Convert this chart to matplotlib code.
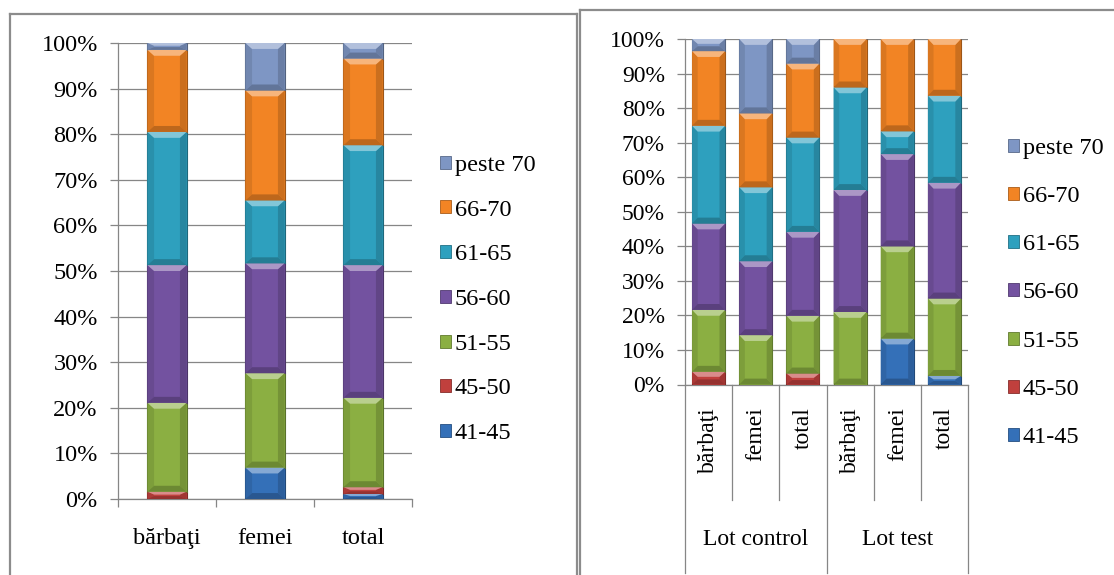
import matplotlib
matplotlib.use('Agg')
import matplotlib.pyplot as plt
from matplotlib.patches import Polygon, Patch
from matplotlib.lines import Line2D
from matplotlib.colors import to_rgb
from matplotlib.font_manager import FontProperties
import numpy as np

plt.rcParams['font.family'] = ['Liberation Serif', 'DejaVu Serif']

# ---------------- data ----------------
age_groups = ['41-45', '45-50', '51-55', '56-60', '61-65', '66-70', 'peste 70']
sex_labels = ['bărbaţi', 'femei', 'total']
lot_labels = ['Lot control', 'Lot test']

# all patients, percent per age group (bărbaţi, femei, total)
all_41_45 = [0.0, 6.9, 1.1]
all_45_50 = [1.6, 0.0, 1.5]
all_51_55 = [19.5, 20.7, 19.6]
all_56_60 = [30.2, 24.1, 29.1]
all_61_65 = [29.2, 13.8, 26.3]
all_66_70 = [18.0, 24.1, 19.0]
all_peste_70 = [1.5, 10.4, 3.4]

# per lot, percent per age group
# (control: bărbaţi, femei, total; test: bărbaţi, femei, total)
lot_41_45 = [0.0, 0.0, 0.0, 0.0, 13.3, 2.5]
lot_45_50 = [3.7, 0.0, 3.2, 0.0, 0.0, 0.0]
lot_51_55 = [17.9, 14.3, 16.7, 21.0, 26.7, 22.4]
lot_56_60 = [25.0, 21.4, 24.3, 35.3, 26.7, 33.5]
lot_61_65 = [28.3, 21.4, 27.3, 29.7, 6.6, 25.2]
lot_66_70 = [21.6, 21.4, 21.4, 14.0, 26.7, 16.4]
lot_peste_70 = [3.5, 21.5, 7.1, 0.0, 0.0, 0.0]

base_colors = ['#3470B8', '#C0403D', '#8BAF42', '#7352A0',
               '#2EA0BE', '#F28424', '#7E96C4']

GRID = '#868686'
W, H = 1114, 575
FS = 17.5


def shade(c, f):
    r, g, b = to_rgb(c)
    if f >= 0:
        return tuple(v + (1 - v) * f for v in (r, g, b))
    return tuple(v * (1 + f) for v in (r, g, b))


def draw_stack(ax, series, width, band):
    x = np.arange(len(series[0]))
    bottom = np.zeros(len(x))
    for vals, col in zip(series, base_colors):
        vals = np.asarray(vals, float)
        ax.bar(x, vals, width, bottom=bottom, color=col,
               edgecolor=shade(col, -0.35), linewidth=0.8, zorder=3)
        for xi, b0, h in zip(x, bottom, vals):
            if h <= 0:
                continue
            top = b0 + h
            bh = min(band, 0.4 * h)
            inset = width * 0.17
            x0, x1 = xi - width / 2, xi + width / 2
            # bevel: light top, darker sides and bottom
            ax.add_patch(Polygon([(x0, b0), (x0, top), (x0 + inset, top - bh),
                                  (x0 + inset, b0 + bh)], closed=True,
                                 facecolor=shade(col, -0.1), edgecolor='none', zorder=4))
            ax.add_patch(Polygon([(x1, b0), (x1, top), (x1 - inset, top - bh),
                                  (x1 - inset, b0 + bh)], closed=True,
                                 facecolor=shade(col, -0.16), edgecolor='none', zorder=4))
            ax.add_patch(Polygon([(x0, b0), (x1, b0), (x1 - inset, b0 + bh),
                                  (x0 + inset, b0 + bh)], closed=True,
                                 facecolor=shade(col, -0.22), edgecolor='none', zorder=4))
            ax.add_patch(Polygon([(x0, top), (x1, top), (x1 - inset, top - bh),
                                  (x0 + inset, top - bh)], closed=True,
                                 facecolor=shade(col, 0.4), edgecolor='none', zorder=4))
        bottom += vals


def style_y(ax, size):
    ax.set_ylim(0, 100)
    ax.set_yticks(np.arange(0, 101, 10))
    ax.set_yticklabels([f'{v}%' for v in range(0, 101, 10)])
    ax.yaxis.grid(True, color=GRID, linewidth=0.9, zorder=0)
    ax.set_axisbelow(True)
    ax.tick_params(axis='y', length=5.5, width=0.9, color=GRID,
                   labelsize=size, pad=9)
    for s in ('top', 'right'):
        ax.spines[s].set_visible(False)
    for s in ('left', 'bottom'):
        ax.spines[s].set_color(GRID)
        ax.spines[s].set_linewidth(0.9)


fig = plt.figure(figsize=(W / 100, H / 100), dpi=100)

# ---------------- left chart ----------------
ax1 = fig.add_axes([118 / W, 1 - 499 / H, 294 / W, 456 / H])
left_series = [all_41_45, all_45_50, all_51_55, all_56_60,
               all_61_65, all_66_70, all_peste_70]
draw_stack(ax1, left_series, 0.4, 1.3)
ax1.set_xlim(-0.5, len(sex_labels) - 0.5)
style_y(ax1, FS)
ax1.set_xticks(np.arange(len(sex_labels)))
ax1.set_xticklabels(sex_labels)
ax1.set_xticks(np.arange(len(sex_labels) + 1) - 0.5, minor=True)
ax1.tick_params(axis='x', which='major', length=0, labelsize=FS, pad=21)
ax1.tick_params(axis='x', which='minor', length=5.5, width=0.9, color=GRID)

# ---------------- right chart ----------------
ax2 = fig.add_axes([685 / W, 1 - 384.5 / H, 283 / W, 345.5 / H])
right_series = [lot_41_45, lot_45_50, lot_51_55, lot_56_60,
                lot_61_65, lot_66_70, lot_peste_70]
draw_stack(ax2, right_series, 0.7, 1.7)
n_right = len(lot_41_45)
ax2.set_xlim(-0.5, n_right - 0.5)
style_y(ax2, FS - 0.5)
ax2.set_xticks([])

trans = ax2.get_xaxis_transform()
bounds = np.arange(n_right + 1) - 0.5
per_group = len(sex_labels)
for k, xb in enumerate(bounds):
    y_end = -0.545 if k % per_group == 0 else -0.335
    ax2.plot([xb, xb], [0, y_end], color=GRID, linewidth=0.9,
             transform=trans, clip_on=False)
for i in range(n_right):
    ax2.text(i, -0.065, sex_labels[i % per_group], rotation=90,
             ha='center', va='top', fontsize=FS - 0.5, transform=trans)
for g, name in enumerate(lot_labels):
    xc = g * per_group + (per_group - 1) / 2
    ax2.text(xc, -0.45, name, ha='center', va='center',
             fontsize=FS - 0.5, transform=trans)

# ---------------- legends ----------------
handles = [Patch(facecolor=c, edgecolor=shade(c, -0.3), linewidth=0.6)
           for c in base_colors][::-1]
labels = age_groups[::-1]
leg_font = FontProperties(family=['Liberation Serif', 'DejaVu Serif'], size=FS)
fig.legend(handles, labels, loc='center left',
           bbox_to_anchor=(440 / W, 1 - 299.5 / H), frameon=False,
           prop=leg_font, handlelength=0.45, handleheight=0.45,
           handletextpad=0.15, labelspacing=0.975, borderpad=0, borderaxespad=0)
fig.legend(handles, labels, loc='center left',
           bbox_to_anchor=(1008 / W, 1 - 293 / H), frameon=False,
           prop=leg_font, handlelength=0.45, handleheight=0.45,
           handletextpad=0.15, labelspacing=1.12, borderpad=0, borderaxespad=0)

# ---------------- panel frames ----------------
frame = dict(color='#8C8C8C', linewidth=1.6, transform=fig.transFigure)
fig.add_artist(Line2D([9.5 / W, 9.5 / W], [0, 1 - 14 / H], **frame))
fig.add_artist(Line2D([9.5 / W, 576.5 / W], [1 - 14 / H, 1 - 14 / H], **frame))
fig.add_artist(Line2D([576.5 / W, 576.5 / W], [0, 1 - 14 / H], **frame))
fig.add_artist(Line2D([579.5 / W, 579.5 / W], [0, 1 - 10 / H], **frame))
fig.add_artist(Line2D([579.5 / W, 1], [1 - 10 / H, 1 - 10 / H], **frame))

fig.savefig('out.png', dpi=100)
